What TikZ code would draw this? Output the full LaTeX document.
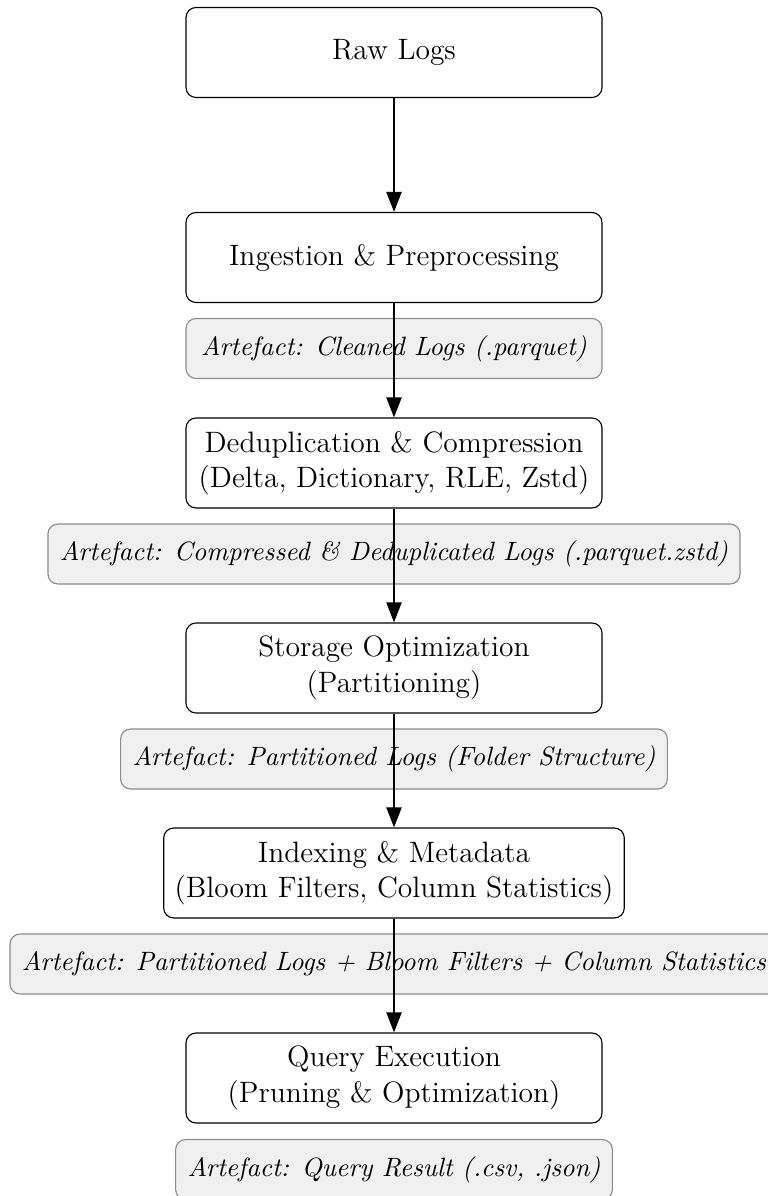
\documentclass[tikz,border=0pt]{standalone}
\usetikzlibrary{arrows.meta}
\begin{document}
\begin{tikzpicture}[x=0.4pt,y=-0.4pt,
  stagebox/.style={draw=black, line width=0.45pt, rounded corners=4pt, fill=white,
    minimum width=166.4pt, minimum height=36pt, inner xsep=4.4pt, align=center,
    font=\fontsize{11.8}{14.2}\selectfont},
  artbox/.style={draw=black!45, line width=0.45pt, rounded corners=4pt, fill=black!6,
    minimum width=166.4pt, minimum height=24pt, inner xsep=4.8pt, align=center,
    font=\fontsize{10.6}{12.5}\selectfont\itshape},
  flow/.style={line width=0.8pt, -{Triangle[length=8pt,width=6pt]}}]
\useasboundingbox (0,0) rectangle (768,1196);
\node[stagebox] (raw) at (394,52.5) {Raw Logs};
\node[stagebox] (ing) at (394,257.5) {Ingestion \& Preprocessing};
\node[stagebox] (dedup) at (394,463) {Deduplication \& Compression\\(Delta, Dictionary, RLE, Zstd)};
\node[stagebox] (stor) at (394,668) {Storage Optimization\\(Partitioning)};
\node[stagebox] (idx) at (394,873) {Indexing \& Metadata\\(Bloom Filters, Column Statistics)};
\node[stagebox] (query) at (394,1078) {Query Execution\\(Pruning \& Optimization)};
\node[artbox] (a1) at (394,348.5) {Artefact: Cleaned Logs (.parquet)};
\node[artbox] (a2) at (394,554) {Artefact: Compressed \& Deduplicated Logs (.parquet.zstd)};
\node[artbox] (a3) at (394,759) {Artefact: Partitioned Logs (Folder Structure)};
\node[artbox] (a4) at (394,964) {Artefact: Partitioned Logs + Bloom Filters + Column Statistics};
\node[artbox] (a5) at (394,1169.5) {Artefact: Query Result (.csv, .json)};
\draw[flow] (raw) -- (ing);
\draw[flow] (ing) -- (dedup);
\draw[flow] (dedup) -- (stor);
\draw[flow] (stor) -- (idx);
\draw[flow] (idx) -- (query);
\end{tikzpicture}
\end{document}
